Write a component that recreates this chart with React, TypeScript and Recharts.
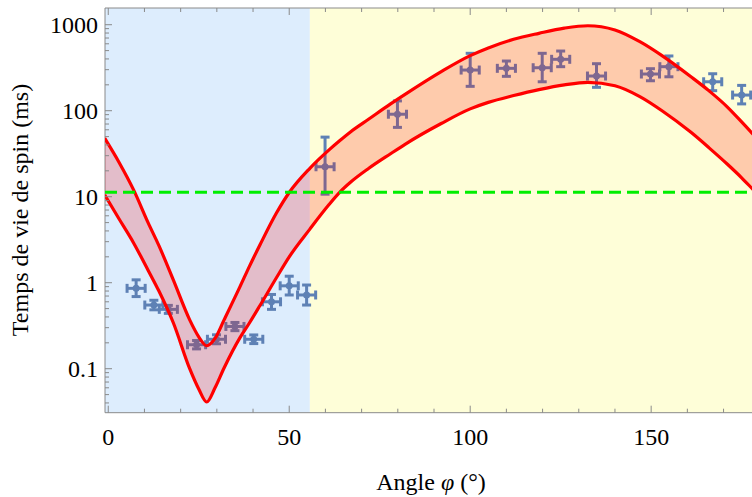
import {
    ComposedChart,
    XAxis,
    YAxis,
    Area,
    Line,
    Scatter,
    ErrorBar,
    ReferenceArea,
    ReferenceLine
} from 'recharts';

// theory band (upper / lower bound)
const angles = [-1, 3, 7, 11, 14, 18, 22.5, 25, 27.2, 29.5, 32, 36.4, 39, 42, 46.5, 50, 55.7, 61, 64, 67, 72, 78, 82, 92, 100, 105, 112, 119, 126, 132.5, 140, 147, 153, 161, 166, 171, 175, 178, 181];
const upperMs = [48, 25, 12, 5.0, 2.7, 1.07, 0.37, 0.235, 0.185, 0.225, 0.37, 0.9, 1.55, 2.8, 6.5, 11.2, 21.4, 35, 45, 57, 80, 120, 155, 285, 437, 537, 676, 794, 912, 973, 870, 631, 437, 248, 170, 111, 74, 54, 39];
const lowerMs = [10.5, 5.5, 2.9, 1.4, 0.8, 0.34, 0.1, 0.058, 0.041, 0.06, 0.102, 0.23, 0.34, 0.55, 1.15, 2.0, 4.2, 8.1, 11.3, 14.8, 21.4, 31.6, 40.7, 71, 105, 125, 150, 176, 200, 214, 195, 145, 100, 56, 37, 24, 16.6, 12.3, 9.1];

// measured spin lifetimes
const pointAngles = [7.7, 12.6, 16.6, 24.4, 29.9, 35, 40.2, 45.1, 50, 54.8, 59.9, 79.9, 100, 110, 119.9, 125, 134.9, 149.8, 154.9, 167, 175];
const pointMs = [0.86, 0.55, 0.49, 0.19, 0.22, 0.31, 0.22, 0.6, 0.92, 0.72, 22.3, 91, 297, 311, 316, 396, 253, 267, 325, 217, 152];
const errLow = [0.17, 0.066, 0.05, 0.02, 0.025, 0.033, 0.024, 0.11, 0.2, 0.17, 11.6, 27, 105, 60, 99, 71, 66, 44, 77, 46, 32];
const errHigh = [0.22, 0.075, 0.055, 0.023, 0.028, 0.035, 0.027, 0.13, 0.27, 0.22, 27, 39, 168, 67, 149, 98, 99, 41, 108, 52, 45];
const angleErr = 2.5;

const threshold = 11.3;
const regionSplit = 55.7;
const xDomain = [-0.9, 180.9];
const yDomain = [0.0308, 1564];

const xTicks = [0, 10, 20, 30, 40, 50, 60, 70, 80, 90, 100, 110, 120, 130, 140, 150, 160, 170, 180];
const yTicks = [0.04, 0.05, 0.06, 0.07, 0.08, 0.09, 0.1, 0.2, 0.3, 0.4, 0.5, 0.6, 0.7, 0.8, 0.9, 1, 2, 3, 4, 5, 6, 7, 8, 9, 10, 20, 30, 40, 50, 60, 70, 80, 90, 100, 200, 300, 400, 500, 600, 700, 800, 900, 1000];

const FONT = '"Liberation Serif", "Times New Roman", Times, serif';
const FRAME = '#8a8a8a';
const POINT = '#5e81b5';

const bandData = angles.map((x, i) => ({
    x,
    hi: upperMs[i],
    lo: lowerMs[i],
    band: [lowerMs[i], upperMs[i]]
}));

const points = pointAngles.map((x, i) => ({
    x,
    y: pointMs[i],
    xErr: angleErr,
    yErr: [errLow[i], errHigh[i]]
}));

const isDecade = (v: number) => Math.abs(Math.log10(v) - Math.round(Math.log10(v))) < 1e-6;

const LeftTick = (props: any) => {
    const { x, y, payload } = props;
    const major = isDecade(payload.value);
    return (
        <g>
            <line x1={x} y1={y} x2={x + (major ? 7 : 4)} y2={y} stroke={FRAME} />
            {major && (
                <text x={x - 7} y={y + 8} textAnchor="end" fontSize={24} fontFamily={FONT} fill="#000">
                    {String(payload.value)}
                </text>
            )}
        </g>
    );
};

const BottomTick = (props: any) => {
    const { x, y, payload } = props;
    const major = payload.value % 50 === 0;
    return (
        <g>
            <line x1={x} y1={y} x2={x} y2={y - (major ? 7 : 4)} stroke={FRAME} />
            {major && (
                <text x={x} y={y + 32} textAnchor="middle" fontSize={24} fontFamily={FONT} fill="#000">
                    {payload.value}
                </text>
            )}
        </g>
    );
};

const TopTick = (props: any) => {
    const { x, y, payload } = props;
    const major = payload.value % 50 === 0;
    return <line x1={x} y1={y} x2={x} y2={y + (major ? 7 : 4)} stroke={FRAME} />;
};

const dot = (p: any) => <circle cx={p.cx} cy={p.cy} r={3.5} fill={POINT} />;

export default function App() {
    return (
        <div style={{ position: 'relative', width: 752, height: 497, overflow: 'hidden', background: '#fff' }}>
            <style>{'body{margin:0}'}</style>
            <ComposedChart
                width={763}
                height={497}
                data={bandData}
                margin={{ top: 7, right: 0, bottom: 0, left: 0 }}
            >
                <XAxis
                    dataKey="x"
                    type="number"
                    domain={xDomain}
                    allowDataOverflow
                    ticks={xTicks}
                    interval={0}
                    tickSize={0}
                    tickMargin={0}
                    tickLine={false}
                    tick={BottomTick}
                    height={84.3}
                    axisLine={{ stroke: FRAME }}
                />
                <XAxis
                    xAxisId="top"
                    orientation="top"
                    dataKey="x"
                    type="number"
                    domain={xDomain}
                    allowDataOverflow
                    ticks={xTicks}
                    interval={0}
                    tickSize={0}
                    tickMargin={0}
                    tickLine={false}
                    tick={TopTick}
                    height={1}
                    axisLine={{ stroke: FRAME }}
                />
                <YAxis
                    type="number"
                    scale="log"
                    domain={yDomain}
                    allowDataOverflow
                    ticks={yTicks}
                    interval={0}
                    tickSize={0}
                    tickMargin={0}
                    tickLine={false}
                    tick={LeftTick}
                    width={105}
                    axisLine={{ stroke: FRAME }}
                />
                <ReferenceArea x1={xDomain[0]} x2={regionSplit} fill="#ddedfd" fillOpacity={1} stroke="none" />
                <ReferenceArea x1={regionSplit} x2={xDomain[1]} fill="#fefed8" fillOpacity={1} stroke="none" />
                <Scatter data={points} dataKey="y" shape={dot} isAnimationActive={false}>
                    <ErrorBar dataKey="xErr" direction="x" width={4.5} stroke={POINT} strokeWidth={3} isAnimationActive={false} />
                    <ErrorBar dataKey="yErr" direction="y" width={4.5} stroke={POINT} strokeWidth={3} isAnimationActive={false} />
                </Scatter>
                <Area
                    dataKey="band"
                    type="monotone"
                    stroke="none"
                    fill="#ff0000"
                    fillOpacity={0.2}
                    isAnimationActive={false}
                    activeDot={false}
                    zIndex={700}
                />
                <Line dataKey="lo" type="monotone" stroke="#ff0000" strokeWidth={3.2} dot={false} activeDot={false} isAnimationActive={false} zIndex={800} />
                <Line dataKey="hi" type="monotone" stroke="#ff0000" strokeWidth={3.2} dot={false} activeDot={false} isAnimationActive={false} zIndex={800} />
                <ReferenceLine y={threshold} stroke="#00ee00" strokeWidth={3} strokeDasharray="12 6" zIndex={900} />
            </ComposedChart>
            <svg width={752} height={497} style={{ position: 'absolute', left: 0, top: 0, pointerEvents: 'none' }}>
                <text x={431} y={490} textAnchor="middle" fontSize={24} fontFamily={FONT} fill="#000">
                    Angle <tspan fontStyle="italic">φ</tspan> (°)
                </text>
                <text transform="translate(28,210) rotate(-90)" textAnchor="middle" fontSize={24} fontFamily={FONT} fill="#000">
                    Temps de vie de spin (ms)
                </text>
            </svg>
        </div>
    );
}
